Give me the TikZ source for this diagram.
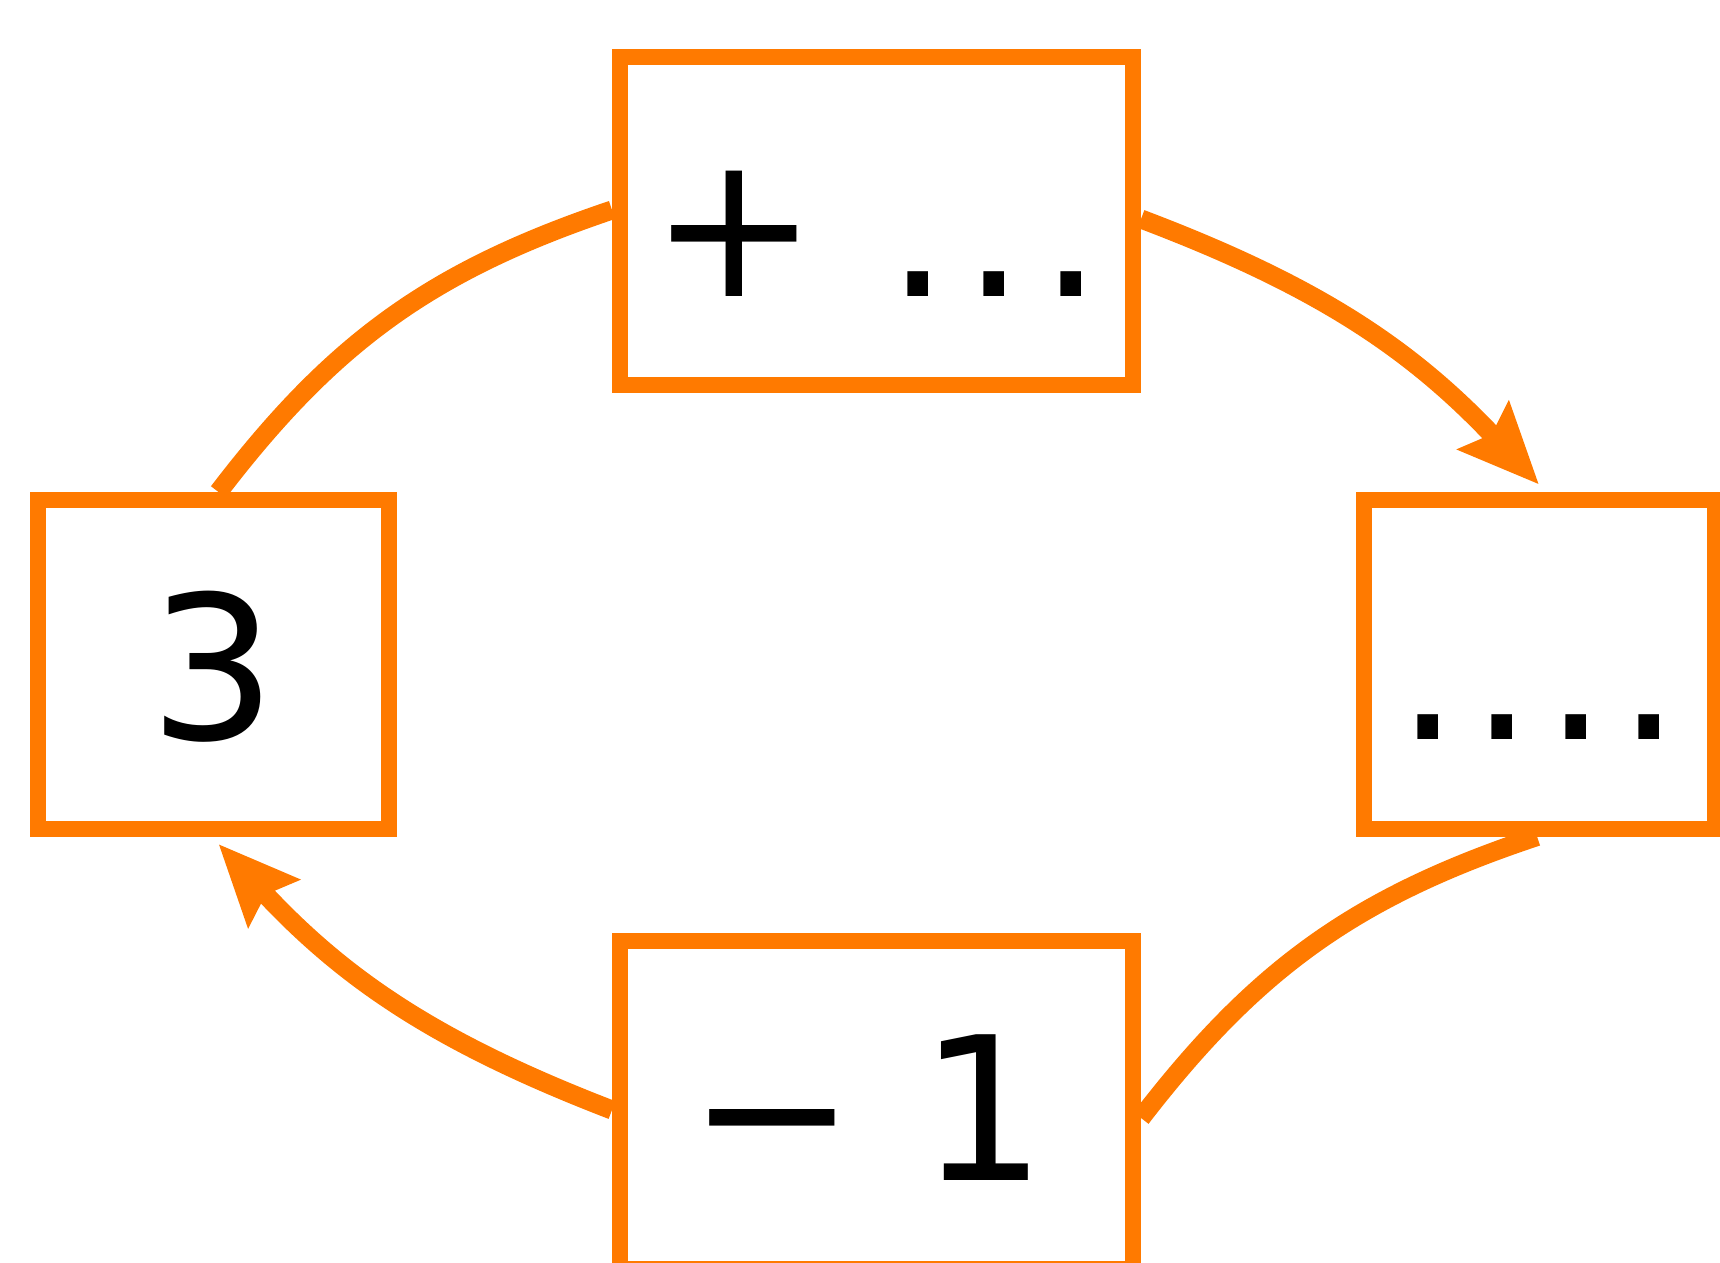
\documentclass[tikz,border=0pt]{standalone}
\usepackage{fontspec}
\setmainfont{DejaVu Sans}
\usetikzlibrary{arrows.meta,backgrounds}
\definecolor{orng}{RGB}{255,122,0}
\newcommand\dgap{\kern10pt}
\newcommand\tgap{\kern13pt}
\begin{document}
\begin{tikzpicture}[x=1pt,y=1pt,
  box/.style={draw=orng, fill=white, line width=16pt, inner sep=0pt,
    text height=150pt, text depth=0pt,
    font=\fontsize{200}{240}\selectfont},
  wide/.style={box, minimum width=513pt, minimum height=328pt},
  narrow/.style={box, minimum width=351pt, minimum height=329pt},
  conn/.style={draw=orng, line width=19pt},
  tip/.style={-{Stealth[length=80pt,width=68pt,inset=11pt]}}]
\useasboundingbox (0,0) rectangle (1720,-1262);
\node[wide]   (top)    at (876.5,-221)  {+ \kern5pt.\tgap.\tgap.};
\node[narrow] (left)   at (213.5,-664.5) {3};
\node[narrow] (right)  at (1539,-664)   {.\dgap.\dgap.\dgap.};
\node[wide]   (bottom) at (876.5,-1105) {− 1\kern18pt};
\coordinate (rtip) at ([yshift=7pt]right.north);
\coordinate (ltip) at ([xshift=5pt,yshift=-7pt]left.south);
\begin{pgfonlayer}{background}
\draw[conn] ([yshift=11pt]top.west) to[bend right=17] ([xshift=5pt]left.north);
\draw[conn,tip] ([yshift=2pt]top.east) to[bend left=13] (rtip);
\draw[conn] ([xshift=-2pt]right.south) to[bend right=17] ([yshift=-13pt]bottom.east);
\draw[conn,tip] ([yshift=-5pt]bottom.west) to[bend left=13] (ltip);
\end{pgfonlayer}
\end{tikzpicture}
\end{document}
